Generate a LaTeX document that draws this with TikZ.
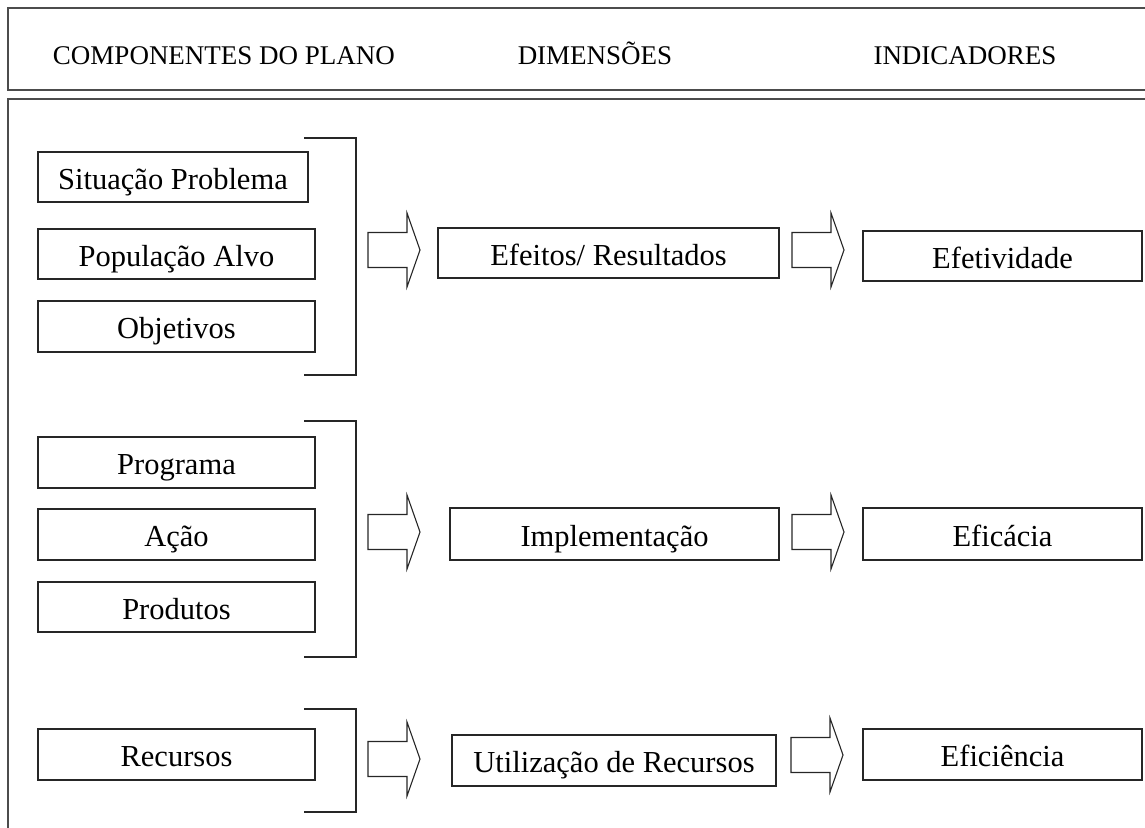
\documentclass[tikz,border=0pt]{standalone}
\usepackage{fontspec}
\setmainfont{Liberation Serif}
\begin{document}
\begin{tikzpicture}[x=1pt,y=-1pt,
  frame/.style={draw=black!70, line width=1.3pt},
  brk/.style={draw=black!85, line width=1.1pt},
  blk/.style={draw=black!85, line width=1.1pt},
  box/.style={draw=black!85, line width=1.1pt, inner sep=0pt, minimum height=50pt,
              text height=27.5pt, text depth=3.5pt, font=\fontsize{30.5}{34}\selectfont},
  hdr/.style={inner sep=0pt, anchor=base, font=\fontsize{27}{30}\selectfont}]
\newcommand\blockarrow[2]{%
  \draw[blk] (#1,#2-17.5) -- ++(39,0) -- ++(0,-19.5) -- (#1+52,#2)
     -- (#1+39,#2+37) -- ++(0,-19.5) -- (#1,#2+17.5) -- cycle;}
\useasboundingbox (0,0) rectangle (1145,827);
% frames
\draw[frame] (1150,8) -- (8,8) -- (8,90) -- (1150,90);
\draw[frame] (1150,99) -- (8,99) -- (8,830);
% header
\node[hdr] (h1) at (224,64) {COMPONENTES DO PLANO};
\node[hdr] (h2) at (595,64) {DIMENSÕES};
\node[hdr] (h3) at (965,64) {INDICADORES};
% group 1
\node[box, minimum width=270pt] (sit) at (173,177) {Situação Problema};
\node[box, minimum width=277pt] (pop) at (176.5,254) {População Alvo};
\node[box, minimum width=277pt, minimum height=51pt] (obj) at (176.5,326.5) {Objetivos};
\draw[brk] (304,138) -- (356,138) -- (356,375) -- (304,375);
\blockarrow{368}{250}
\node[box, minimum width=341pt] (efe) at (608.5,253) {Efeitos/ Resultados};
\blockarrow{792}{250}
\node[box, minimum width=279pt] (efet) at (1002.5,256) {Efetividade};
% group 2
\node[box, minimum width=277pt, minimum height=51pt] (prog) at (176.5,462.5) {Programa};
\node[box, minimum width=277pt, minimum height=51pt] (acao) at (176.5,534.5) {Ação};
\node[box, minimum width=277pt] (prod) at (176.5,607) {Produtos};
\draw[brk] (304,421) -- (356,421) -- (356,657) -- (304,657);
\blockarrow{368}{532}
\node[box, minimum width=329pt, minimum height=52pt] (impl) at (614.5,534) {Implementação};
\blockarrow{792}{532}
\node[box, minimum width=279pt, minimum height=52pt] (efic) at (1002.5,534) {Eficácia};
% group 3
\node[box, minimum width=277pt, minimum height=51pt] (rec) at (176.5,754.5) {Recursos};
\draw[brk] (304,709) -- (356,709) -- (356,812) -- (304,812);
\blockarrow{368}{759}
\node[box, minimum width=324pt, minimum height=51pt] (util) at (614,760.5) {Utilização de Recursos};
\blockarrow{791}{755}
\node[box, minimum width=279pt, minimum height=51pt] (efici) at (1002.5,754.5) {Eficiência};
\end{tikzpicture}
\end{document}
